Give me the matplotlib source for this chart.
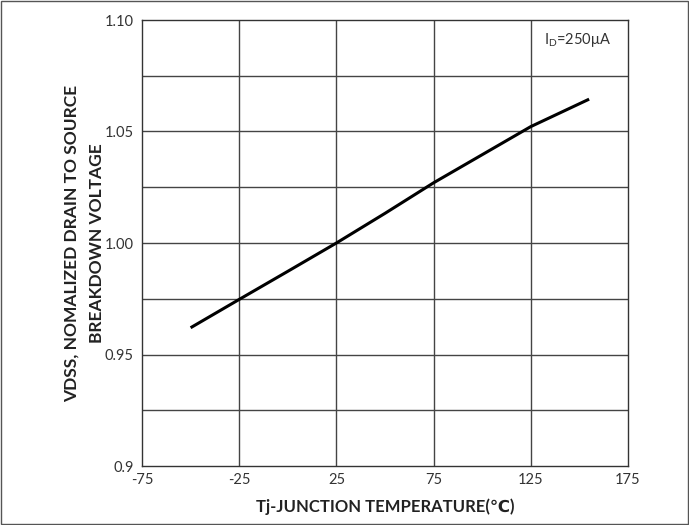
import numpy as np
import matplotlib.pyplot as plt
from matplotlib.patches import Rectangle

# Data
temps = [-50, -25, 0, 25, 50, 75, 100, 125, 155]
vdss = [0.962, 0.9747, 0.9873, 1.000, 1.0133, 1.027, 1.0396, 1.0522, 1.0645]
x_ticks = [-75, -25, 25, 75, 125, 175]
y_ticks = [0.9, 0.95, 1.00, 1.05, 1.10]
y_labels = ['0.9', '0.95', '1.00', '1.05', '1.10']

plt.rcParams['font.family'] = ['Lato', 'DejaVu Sans']
plt.rcParams['axes.unicode_minus'] = False
plt.rcParams['mathtext.fontset'] = 'custom'
plt.rcParams['mathtext.rm'] = 'Lato'
plt.rcParams['mathtext.it'] = 'Lato'

fig = plt.figure(figsize=(6.89, 5.25), dpi=100)
ax = fig.add_axes([142 / 689, 1 - 466 / 525, 486 / 689, 446 / 525])

ax.plot(temps, vdss, color='black', linewidth=2.2, solid_capstyle='butt')

# Grid
ax.set_xlim(-75, 175)
ax.set_ylim(0.9, 1.1)
ax.set_xticks(x_ticks)
ax.set_yticks(y_ticks)
ax.set_yticklabels(y_labels)
for t in x_ticks[1:-1]:
    ax.axvline(t, color='#444444', linewidth=1.0, zorder=0)
for v in np.arange(0.925, 1.09, 0.025):
    ax.axhline(v, color='#444444', linewidth=1.0, zorder=0)

ax.tick_params(axis='both', length=0, labelsize=10.5, colors='#333333')
ax.tick_params(axis='x', pad=5)
ax.tick_params(axis='y', pad=6)
for s in ax.spines.values():
    s.set_color('#333333')
    s.set_linewidth(1.0)

ax.text(0.965, 0.955, r'I$_\mathrm{D}$=250μA', transform=ax.transAxes,
        ha='right', va='center', fontsize=10.5, color='#333333')

ax.set_xlabel('Tj-JUNCTION TEMPERATURE(℃)', fontsize=12, fontweight='bold',
              labelpad=8, color='#222222')
ax.set_ylabel('VDSS, NOMALIZED DRAIN TO SOURCE\nBREAKDOWN VOLTAGE', fontsize=12.5,
              fontweight='bold', linespacing=1.75, color='#222222')
ax.yaxis.set_label_coords(-0.076, 0.5)

# Border around figure
fig.patches.append(Rectangle((0.001, 0.001), 0.998, 0.997, transform=fig.transFigure,
                             fill=False, edgecolor='#555555', linewidth=1.0))

fig.savefig('out.png', dpi=100)
